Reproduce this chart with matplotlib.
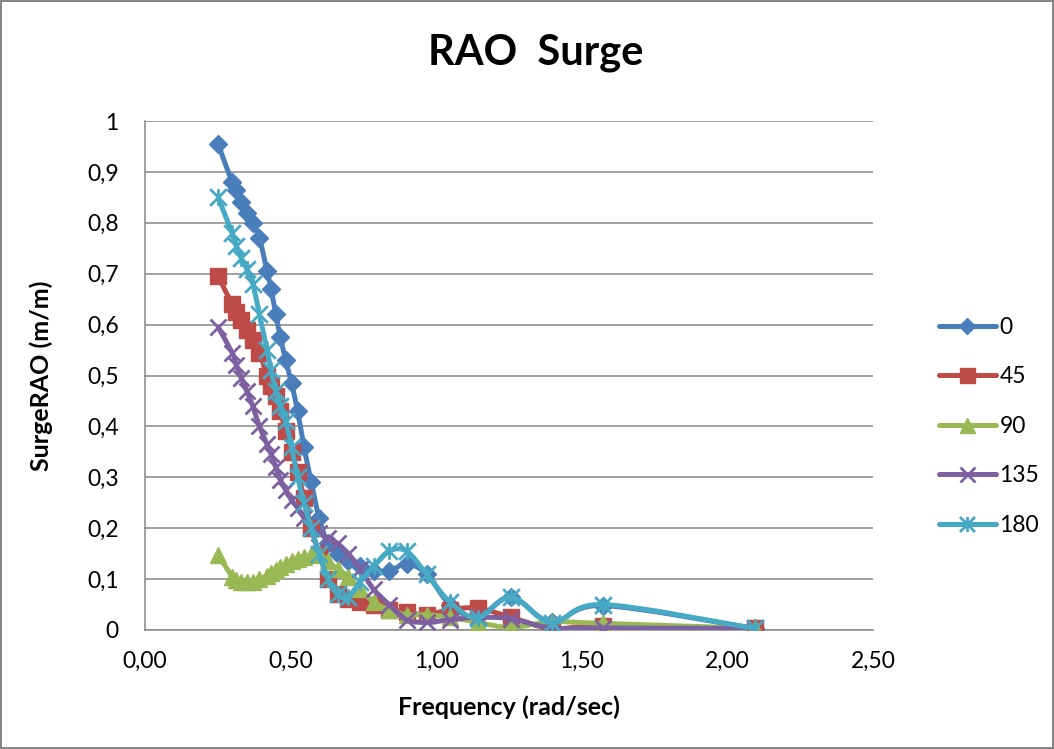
import numpy as np
import matplotlib
matplotlib.use("Agg")
import matplotlib.pyplot as plt
from matplotlib.path import Path
from matplotlib.patches import PathPatch
from matplotlib.lines import Line2D
from matplotlib.ticker import FuncFormatter

plt.rcParams['font.family'] = ['Lato', 'DejaVu Sans']

# frequency (rad/sec)
freq = [0.251, 0.299, 0.314, 0.331, 0.349, 0.370, 0.393, 0.419, 0.433, 0.449,
        0.465, 0.483, 0.503, 0.524, 0.546, 0.571, 0.598, 0.628, 0.661, 0.698,
        0.739, 0.785, 0.838, 0.898, 0.967, 1.047, 1.142, 1.257, 1.396, 1.571, 2.094]

rao_0 = [0.955, 0.88, 0.865, 0.84, 0.82, 0.80, 0.77, 0.705, 0.67, 0.62,
         0.575, 0.53, 0.485, 0.43, 0.36, 0.29, 0.22, 0.17, 0.15, 0.135,
         0.125, 0.115, 0.115, 0.13, 0.11, 0.05, 0.025, 0.065, 0.015, 0.048, 0.003]
rao_45 = [0.695, 0.64, 0.625, 0.61, 0.59, 0.57, 0.545, 0.50, 0.48, 0.46,
          0.43, 0.39, 0.35, 0.31, 0.26, 0.20, 0.15, 0.10, 0.07, 0.06,
          0.055, 0.05, 0.04, 0.035, 0.03, 0.04, 0.043, 0.025, 0.003, 0.008, 0.003]
rao_90 = [0.148, 0.105, 0.098, 0.095, 0.094, 0.095, 0.10, 0.107, 0.112, 0.118,
          0.124, 0.13, 0.135, 0.14, 0.143, 0.147, 0.15, 0.135, 0.12, 0.105,
          0.08, 0.055, 0.04, 0.03, 0.03, 0.025, 0.015, 0.005, 0.016, 0.013, 0.003]
rao_135 = [0.595, 0.545, 0.52, 0.495, 0.47, 0.44, 0.40, 0.365, 0.345, 0.32,
           0.295, 0.275, 0.255, 0.24, 0.22, 0.20, 0.19, 0.18, 0.17, 0.15,
           0.12, 0.08, 0.05, 0.02, 0.015, 0.02, 0.025, 0.022, 0.004, 0.004, 0.003]
rao_180 = [0.85, 0.78, 0.755, 0.73, 0.71, 0.68, 0.62, 0.55, 0.51, 0.47,
           0.44, 0.41, 0.36, 0.30, 0.25, 0.20, 0.15, 0.10, 0.07, 0.065,
           0.095, 0.125, 0.155, 0.155, 0.11, 0.055, 0.024, 0.065, 0.014, 0.05, 0.003]

labels = ['0', '45', '90', '135', '180']
series = [rao_0, rao_45, rao_90, rao_135, rao_180]
colors = ['#4A7EBB', '#BE4B48', '#98B954', '#7D60A0', '#46AAC5']

# asterisk marker like excel's star
star = Path([(0, -0.5), (0, 0.5), (-0.5, -0.5), (0.5, 0.5), (-0.5, 0.5), (0.5, -0.5)],
            [Path.MOVETO, Path.LINETO, Path.MOVETO, Path.LINETO, Path.MOVETO, Path.LINETO])
markers = ['D', 's', '^', 'x', star]
msizes = [9, 12, 12, 12, 12]


def smooth_path(x, y):
    # excel-style smoothed line: cubic bezier through the points
    x = np.asarray(x, float)
    y = np.asarray(y, float)
    n = len(x)
    verts = [(x[0], y[0])]
    codes = [Path.MOVETO]
    for i in range(n - 1):
        i0 = max(i - 1, 0)
        i3 = min(i + 2, n - 1)
        c1 = (x[i] + (x[i + 1] - x[i0]) / 6, y[i] + (y[i + 1] - y[i0]) / 6)
        c2 = (x[i + 1] - (x[i3] - x[i]) / 6, y[i + 1] - (y[i3] - y[i]) / 6)
        verts += [c1, c2, (x[i + 1], y[i + 1])]
        codes += [Path.CURVE4] * 3
    return Path(verts, codes)


fig = plt.figure(figsize=(10.54, 7.49), dpi=100)
fig.patch.set_edgecolor('#868686')
fig.patch.set_linewidth(1.5)
ax = fig.add_axes([0.1376, 0.1589, 0.6907, 0.6795])

handles = []
for k, (lab, vals, c, m, ms) in enumerate(zip(labels, series, colors, markers, msizes)):
    z = 3 + k
    ax.add_patch(PathPatch(smooth_path(freq, vals), fill=False, edgecolor=c,
                           linewidth=3.6, zorder=z, capstyle='round', joinstyle='round'))
    mew = 2 if m in ('x',) or m is star else 1
    ax.plot(freq, vals, linestyle='none', marker=m, markersize=ms, color=c,
            markeredgecolor=c, markeredgewidth=mew, zorder=z)
    handles.append(Line2D([], [], color=c, linewidth=3.6, marker=m, markersize=ms * 0.9,
                          markeredgecolor=c, markeredgewidth=mew, solid_capstyle='round'))

ax.set_xlim(0, 2.5)
ax.set_ylim(0, 1)
ax.set_xticks(np.arange(0, 2.51, 0.5))
ax.set_yticks(np.arange(0, 1.01, 0.1))
ax.xaxis.set_major_formatter(FuncFormatter(lambda v, p: f"{v:.2f}".replace('.', ',')))
ax.yaxis.set_major_formatter(FuncFormatter(lambda v, p: ('0' if abs(v) < 1e-9 else '1' if abs(v - 1) < 1e-9 else f"{v:.1f}".replace('.', ','))))
ax.grid(axis='y', color='#868686', linewidth=1.1)
ax.set_axisbelow(True)
for s in ['top', 'right']:
    ax.spines[s].set_visible(False)
for s in ['left', 'bottom']:
    ax.spines[s].set_color('#868686')
    ax.spines[s].set_linewidth(1.1)
ax.tick_params(colors='#868686', labelcolor='black', labelsize=16.5, length=0)
ax.tick_params(axis='y', pad=19)
ax.tick_params(axis='x', pad=15)

ax.set_xlabel('Frequency (rad/sec)', fontsize=18, fontweight='bold')
ax.set_ylabel('SurgeRAO (m/m)', fontsize=18, fontweight='bold')
ax.xaxis.set_label_coords(0.5, -0.128)
ax.yaxis.set_label_coords(-0.127, 0.5)
fig.suptitle('RAO  Surge', fontsize=30, fontweight='bold', x=0.508, y=0.955)

ax.legend(handles, labels, loc='center left', bbox_to_anchor=(1.062, 0.40), frameon=False,
          fontsize=16.5, handlelength=2.5, handletextpad=0.15, labelspacing=1.24)

plt.savefig('out.png', dpi=100)
